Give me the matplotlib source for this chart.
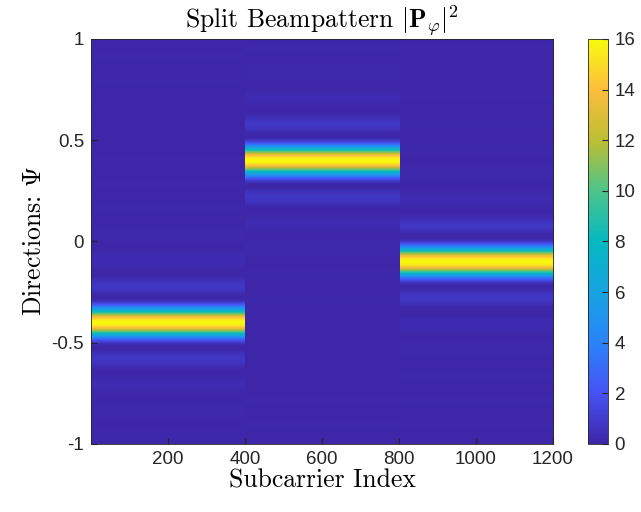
import numpy as np
import matplotlib
matplotlib.use("Agg")
from matplotlib import pyplot as plt
from matplotlib.colors import LinearSegmentedColormap

# beam split: one steering direction per block of subcarriers
block_edges = [0, 400, 800, 1200]
beam_dirs = [-0.4, 0.4, -0.1]
n_ant = 16
n_sub = 1200
psi = np.linspace(-1, 1, 801)

xticks = [200, 400, 600, 800, 1000, 1200]
yticks = [-1, -0.5, 0, 0.5, 1]
yticklabels = ["-1", "-0.5", "0", "0.5", "1"]
cbar_ticks = list(range(0, 17, 2))

# parula-like colormap (MATLAB default)
parula_pts = [
    (0.000, (0.242, 0.150, 0.660)),
    (0.125, (0.275, 0.325, 0.960)),
    (0.250, (0.165, 0.515, 0.975)),
    (0.375, (0.090, 0.640, 0.880)),
    (0.500, (0.020, 0.725, 0.760)),
    (0.625, (0.300, 0.770, 0.540)),
    (0.750, (0.740, 0.745, 0.200)),
    (0.875, (0.990, 0.740, 0.240)),
    (1.000, (0.976, 0.983, 0.054)),
]
parula = LinearSegmentedColormap.from_list("parula", parula_pts)


def array_gain(psi, psi0, n):
    k = np.arange(n)[:, None]
    af = np.exp(1j * np.pi * k * (psi[None, :] - psi0)).sum(axis=0)
    return np.abs(af) ** 2 / n


P = np.zeros((len(psi), n_sub))
for i, d in enumerate(beam_dirs):
    P[:, block_edges[i]:block_edges[i + 1]] = array_gain(psi, d, n_ant)[:, None]

plt.rcParams["mathtext.fontset"] = "cm"
plt.rcParams["font.family"] = ["Liberation Sans", "DejaVu Sans"]
latex_font = dict(family="cmr10", fontsize=18.5)

fig = plt.figure(figsize=(6.41, 5.12), dpi=100)
ax = fig.add_axes([0.142, 0.133, 0.721, 0.791])
cax = fig.add_axes([0.917, 0.133, 0.031, 0.791])

im = ax.imshow(P, origin="lower", aspect="auto", cmap=parula, vmin=0, vmax=16,
               extent=[0.5, n_sub + 0.5, -1, 1], interpolation="nearest")

ax.set_xticks(xticks)
ax.set_yticks(yticks)
ax.set_yticklabels(yticklabels)
ax.tick_params(direction="in", length=4, labelsize=13.5, colors="#262626", pad=5)
for s in ax.spines.values():
    s.set_color("#262626")
    s.set_linewidth(0.6)

ax.set_title(r"Split Beampattern $|\mathbf{P}_{\varphi}|^2$", pad=6, **latex_font)
ax.set_xlabel("Subcarrier Index", labelpad=1, **latex_font)
ax.set_ylabel(r"Directions: $\Psi$", labelpad=4, **latex_font)

cb = fig.colorbar(im, cax=cax, ticks=cbar_ticks)
cb.ax.tick_params(direction="in", length=4, labelsize=13.5, colors="#262626", pad=5)
cb.outline.set_linewidth(0.6)
cb.outline.set_edgecolor("#262626")

fig.savefig("out.png", dpi=100)
